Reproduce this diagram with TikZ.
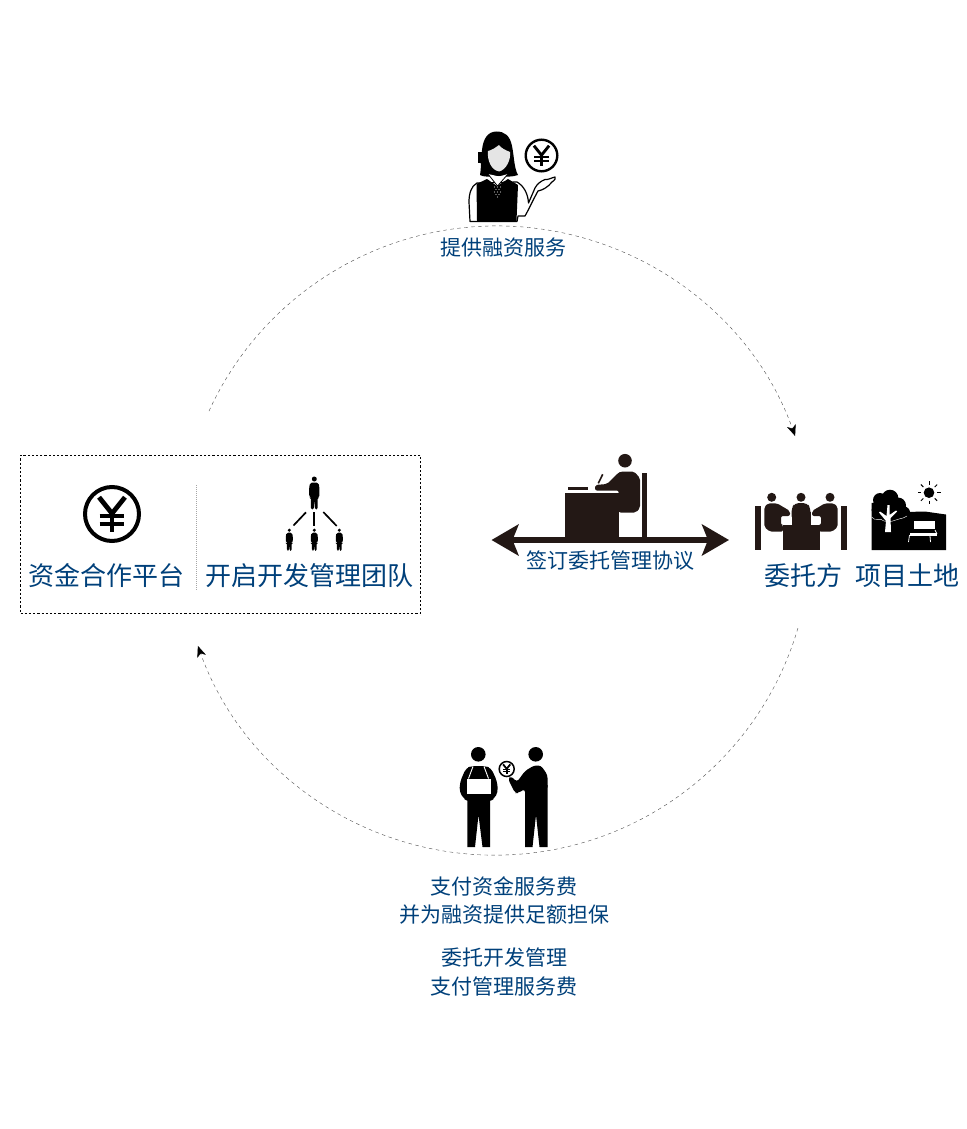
\documentclass[tikz,border=0pt]{standalone}
\usepackage{fontspec}
\setmainfont{Noto Sans CJK SC}
\usetikzlibrary{arrows.meta}
\definecolor{txtblue}{HTML}{00407A}
\definecolor{ink}{HTML}{231815}
\tikzset{
  lab/.style={inner sep=0pt,text=txtblue,font=\fontsize{21}{25}\selectfont},
  biglab/.style={inner sep=0pt,text=txtblue,font=\fontsize{26}{30}\selectfont},
  cyc/.style={draw=black!70,line width=0.4pt,dash pattern=on 3.5pt off 3.5pt,-{Stealth[length=11pt,width=9pt,inset=3pt,black]}},
  agree/.style={draw=ink,line width=6pt,{Stealth[length=27pt,width=31pt,inset=6pt]}-{Stealth[length=27pt,width=31pt,inset=6pt]}}
}
\newcommand{\yenicon}[4]{%
 \begin{scope}[shift={(#1,#2)}]
  \draw[black,line width=#4 pt,fill=white] (0,0) circle (#3);
  \draw[black,line width=1.2*#4 pt] ({-0.48*#3},{-0.62*#3}) -- (0,{-0.02*#3}) -- ({0.48*#3},{-0.62*#3});
  \draw[black,line width=1.2*#4 pt] (0,{-0.02*#3}) -- (0,{0.68*#3});
  \draw[black,line width=#4 pt] ({-0.46*#3},{0.08*#3}) -- ({0.46*#3},{0.08*#3});
  \draw[black,line width=#4 pt] ({-0.46*#3},{0.36*#3}) -- ({0.46*#3},{0.36*#3});
 \end{scope}}
\newcommand{\orgperson}[3]{% x, top y, scale
 \begin{scope}[shift={(#1,#2)},scale=#3]
  \fill (0,2.5) circle (2.5);
  \fill[rounded corners=1.5pt] (-5.2,11) -- (-4,6.2) -- (4,6.2) -- (5.2,11) -- (5,21) -- (3.4,21) -- (3.4,33) -- (0.6,33) -- (0,22) -- (-0.6,33) -- (-3.4,33) -- (-3.4,21) -- (-5,21) -- cycle;
 \end{scope}}
\begin{document}
\begin{tikzpicture}[x=1pt,y=-1pt]
\useasboundingbox (0,0) rectangle (966,1129);

% cycle arcs
\coordinate (topS) at (209,411.1);
\coordinate (topM) at (510.4,226.2);
\coordinate (topE) at (795.1,436);
\coordinate (botS) at (797.9,628.1);
\coordinate (botM) at (504.4,855);
\coordinate (botE) at (197.9,645.9);
\draw[cyc] (topS) .. controls (262.4,293.9) and (381.7,220.7) .. (topM) .. controls (639.1,231.7) and (751.8,314.7) .. (topE);
\draw[cyc] (botS) .. controls (759.5,759.3) and (641,850.9) .. (botM) .. controls (367.8,859.1) and (244,774.6) .. (botE);

% left dashed box
\node (box) at (220.5,534.25) [draw=black,line width=0.6pt,dash pattern=on 2.2pt off 2pt,minimum width=400pt,minimum height=158.5pt,inner sep=0pt] {};
\draw[black!35,line width=0.6pt,dash pattern=on 1pt off 1pt] (196.5,485) -- (196.5,590);
\yenicon{112}{514}{27}{4}

% org chart icon
\orgperson{314.3}{476.5}{1}
\orgperson{289.3}{528.5}{0.68}
\orgperson{314.3}{528.5}{0.68}
\orgperson{339.3}{528.5}{0.68}
\draw[line width=1.7pt] (306,512.3) -- (293.5,525.5);
\draw[line width=1.7pt] (314.3,512) -- (314.3,526);
\draw[line width=1.7pt] (323.3,512) -- (336.7,526);

% woman
\draw[black,line width=1.2pt,fill=white,line join=round] (477,183) .. controls (471,186) and (469,194) .. (469,202) -- (470,221.5) -- (517,221.5) -- (518,216) -- (525,216) .. controls (529,209) and (534,198) .. (538,191) .. controls (543,190) and (548,187) .. (552,182) .. controls (555,180) and (556,178) .. (555,177) .. controls (551,178) and (548,180) .. (545,179.5) .. controls (541,181) and (537,184) .. (535,188) -- (528.5,203) .. controls (528,194) and (524,186) .. (517,182) -- cycle;
\fill[black] (476.5,184) -- (487,179) -- (497,186) -- (508,179) -- (518,185) -- (516.5,221) -- (477,221) -- cycle;
\fill[black] (496.5,131.5) .. controls (487,131.5) and (483,140) .. (482,150) .. controls (481,160) and (481,170) .. (480,175) .. controls (483,177) and (490,177) .. (499,176) .. controls (505,177) and (513,177) .. (518,175) .. controls (514,168) and (514,155) .. (512,146) .. controls (510,136) and (505,131.5) .. (496.5,131.5) -- cycle;
\fill[black!10] (499,145) .. controls (495,148) and (492,150) .. (488,151) .. controls (487,160) and (491,170) .. (499,171.5) .. controls (506,170) and (511,160) .. (510,152) .. controls (505,150) and (501,148) .. (499,145) -- cycle;
\fill[white] (488,174) -- (497.5,186) -- (508,174) -- (499,176.5) -- cycle;
\draw[black,line width=0.8pt] (488,174) -- (497.5,186) -- (508,174);
\fill[black] (477.5,152) rectangle (482,163);
\draw[black,line width=0.8pt] (481,163) .. controls (484,170) and (490,173) .. (497,173.5);
\fill[black] (497,173.5) circle (2);
\foreach \dx/\dy in {-3/0,0/0,3/0,-1.5/2.5,1.5/2.5,-3/5,0/5,3/5,-1.5/7.5,1.5/7.5,0/10}
  \fill[white!75!black] ({497.5+\dx},{187+\dy}) circle (0.7);
\yenicon{541.5}{155.5}{15.8}{2.4}

% desk figure with agreement arrow
\coordinate (agreeL) at (491.5,540);
\coordinate (agreeR) at (729,540);
\draw[agree] (agreeL) -- (agreeR);
\fill[ink] (625,460.7) circle (6.8);
\fill[ink,rounded corners=2pt] (595,490.5) -- (595,485) -- (607,484) -- (618,473) -- (621,471.5) -- (634,471.5) -- (640,478) -- (640,508) -- (636,512.5) -- (618.7,512.5) -- (618.7,490.5) -- cycle;
\fill[ink] (642.3,473.3) rectangle (647,540);
\fill[ink] (565,492.5) rectangle (618.7,540.7);
\fill[ink] (568,487.3) rectangle (588,490);
\draw[ink,line width=1.6pt] (598.3,483.3) -- (602.7,474.3);

% meeting icon
\fill[ink] (771.7,497.3) circle (4.5) (801,497.3) circle (4.5) (830,497.3) circle (4.5);
\fill[ink] (755,505.7) rectangle (761,550);
\fill[ink] (841,505.7) rectangle (846.7,550);
\fill[ink] (782.5,525) rectangle (819.5,550);
\fill[ink] (791.5,512) rectangle (810.5,526);
\fill[ink,rounded corners=4pt] (791.5,520) -- (791.5,508) -- (795,503) -- (807,503) -- (810.5,508) -- (810.5,520) -- cycle;
\fill[ink,rounded corners=2pt] (764.3,527) -- (764.3,507) -- (768,503.3) -- (777,503.3) -- (790,511) -- (790,516) -- (781,516) -- (781,525) -- (783,525) -- (783,531.7) -- (770,531.7) -- cycle;
\fill[ink,rounded corners=2pt] (837.7,527) -- (837.7,507) -- (834,503.3) -- (825,503.3) -- (812,511) -- (812,516) -- (821,516) -- (821,525) -- (819,525) -- (819,531.7) -- (832,531.7) -- cycle;

% land icon
\fill[black] (871.7,550) -- (871.7,503) -- (892,500) -- (906,512) -- (925,511.5) -- (946,514.5) -- (946,550) -- cycle;
\fill[black] (890,498) circle (8.3) (880,500) circle (7) (898,505.5) circle (8) (904,512.5) circle (6) (877,510) circle (5.5) (887,510) circle (8);
\fill[white] (887.5,505) -- (889.5,505) -- (889.5,515) -- (896,510.5) -- (897,511.5) -- (890.5,518) -- (891,532) -- (885,532) -- (886,521) -- (879,512.5) -- (880,511.5) -- (886.5,516) -- cycle;
\draw[white,line width=0.4pt] (871.7,517) .. controls (875,522) and (880,517) .. (884,521) .. controls (890,523) and (895,520) .. (899,519) .. controls (902,517) and (905,519) .. (907,516);
\fill[white] (913.5,520.5) rectangle (935,529);
\fill[white] (910,533) rectangle (937,535.5);
\draw[white,line width=0.8pt] (909.5,535) -- (908.5,542) (930,536) -- (930.5,542) (935,530) -- (937,534);
\fill[black] (929,492.7) circle (5.3);
\foreach \a in {0,45,...,315}
  \draw[black,line width=1pt] ({929+8*cos(\a)},{492.7+8*sin(\a)}) -- ({929+11.5*cos(\a)},{492.7+11.5*sin(\a)});

% two people exchange icon
\fill[black] (478.3,754.3) circle (7.3) (535.7,754.3) circle (7.3);
\fill[black,rounded corners=4pt] (472,766) -- (466,768) -- (460,782) -- (459.5,792) -- (464,799) -- (468,801) -- (490,801) -- (494,799) -- (498,792) -- (497,781) -- (491,768) -- (485,766) -- cycle;
\fill[black] (467.3,798) -- (467.3,847) -- (475,847) -- (478.5,815) -- (482.5,847) -- (490,847) -- (490,798) -- cycle;
\fill[white] (466.7,778.5) rectangle (490.7,794);
\draw[white,line width=0.9pt] (473,766.5) -- (468.5,778.5);
\draw[white,line width=0.9pt] (484,766.5) -- (488.5,778.5);
\fill[black,rounded corners=3pt] (525,771) -- (534,765.5) -- (541,765.5) -- (547.5,775) -- (547.5,790) -- (525,790) -- (525,789) -- (518,793) -- (515,793) -- (508,779) -- (511,776) -- (517,782) -- cycle;
\fill[black] (525,785) -- (525,847) -- (532.5,847) -- (536,815) -- (539.5,847) -- (547.5,847) -- (547.5,785) -- cycle;
\yenicon{506.7}{769}{7.5}{1.5}

% labels
\node (lFin) at (503.5,248) [lab] {提供融资服务};
\node (lPlat) at (106.5,576) [biglab] {资金合作平台};
\node (lTeam) at (309.5,576) [biglab] {开启开发管理团队};
\node (lAgree) at (610.5,561) [lab] {签订委托管理协议};
\node (lClient) at (803,576) [biglab] {委托方};
\node (lLand) at (907,576) [biglab] {项目土地};
\node (lPay1) at (504,886) [lab] {支付资金服务费};
\node (lPay2) at (504,915) [lab] {并为融资提供足额担保};
\node (lPay3) at (504,958) [lab] {委托开发管理};
\node (lPay4) at (504,986) [lab] {支付管理服务费};
\end{tikzpicture}
\end{document}
